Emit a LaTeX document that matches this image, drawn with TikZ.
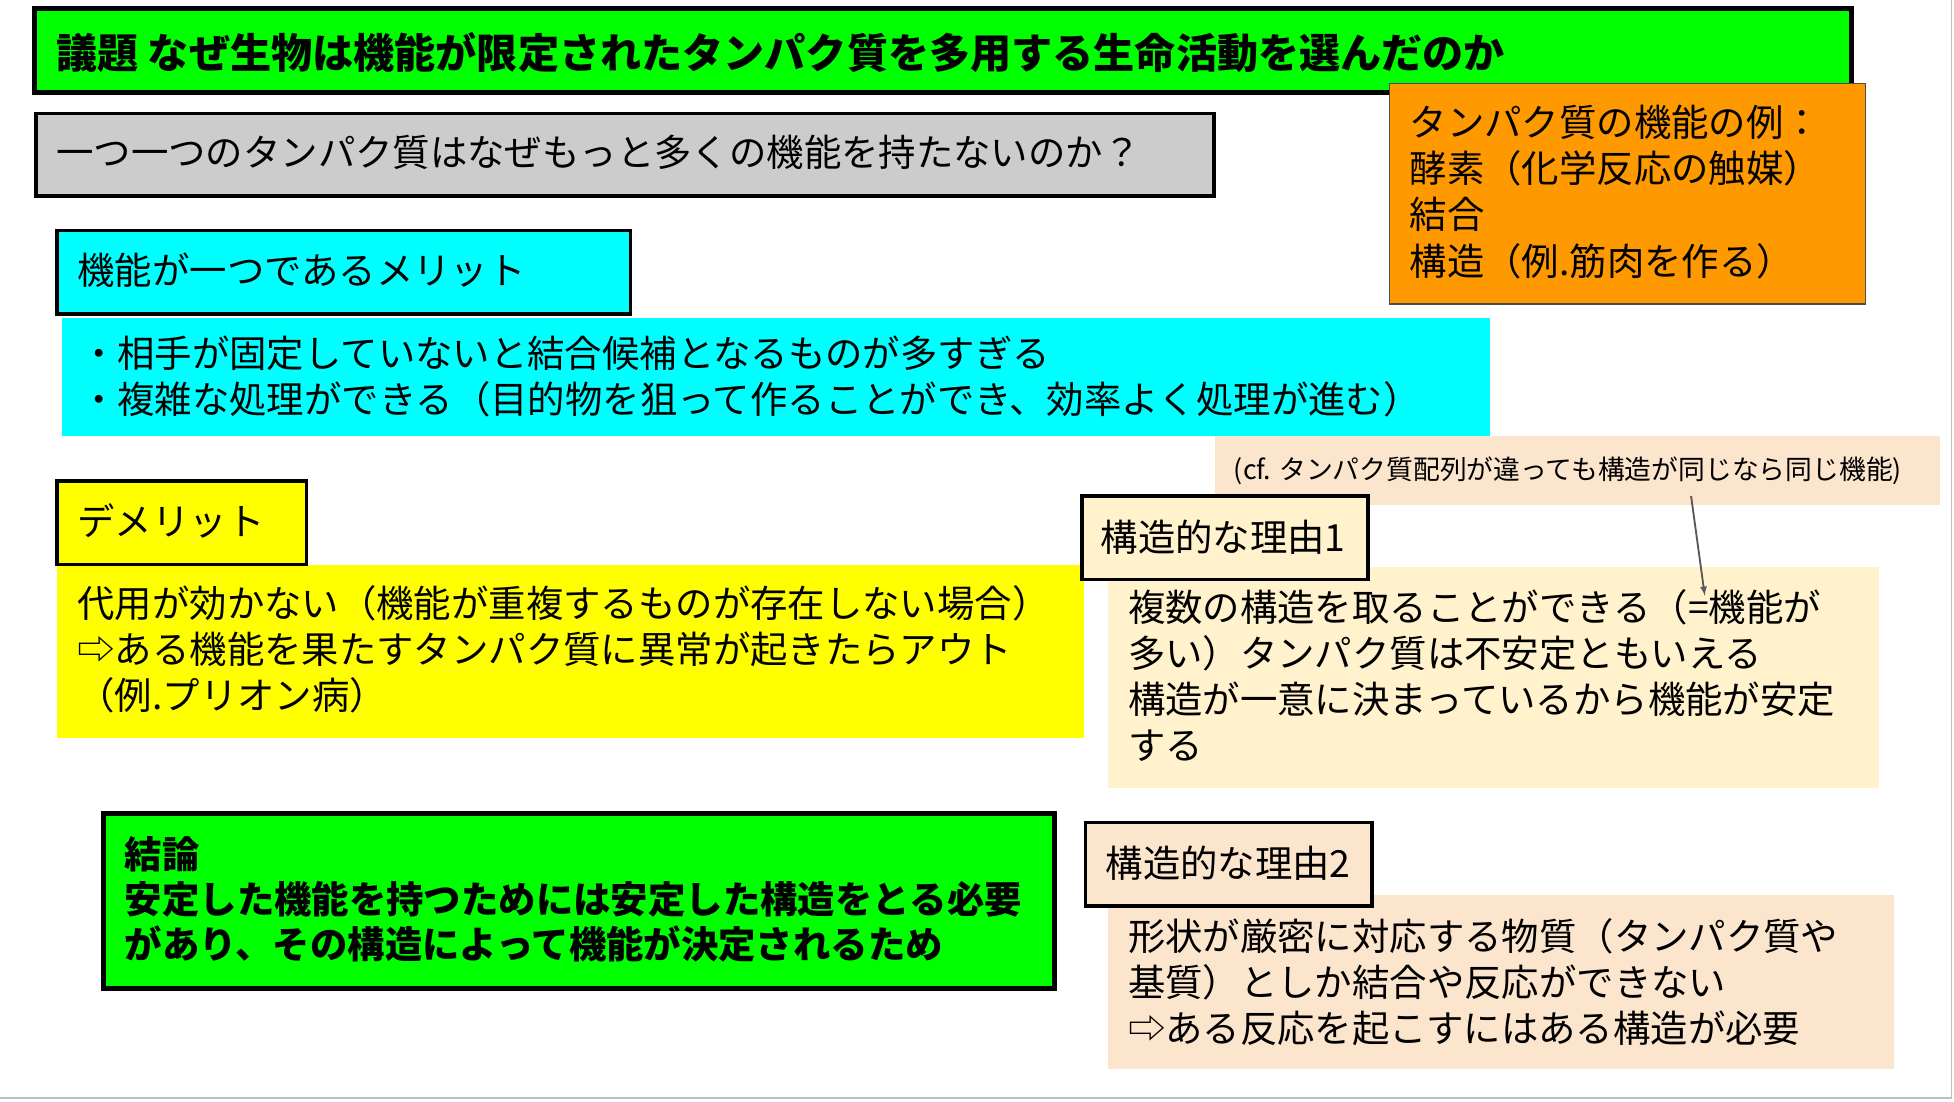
\documentclass[tikz,border=0pt]{standalone}
\usepackage{fontspec}
\setmainfont{Noto Sans CJK JP}
\definecolor{cy}{RGB}{0,255,255}
\definecolor{ye}{RGB}{255,255,0}
\definecolor{gr}{RGB}{0,255,0}
\definecolor{or}{RGB}{255,153,0}
\definecolor{cr}{RGB}{255,242,204}
\definecolor{pe}{RGB}{252,229,205}
\begin{document}
\begin{tikzpicture}[x=1pt,y=-1pt,
  txt/.style={anchor=west,align=left,inner sep=0pt,font=\fontsize{30}{37}\selectfont},
  btxt/.style={txt,font=\fontsize{30}{36}\selectfont\bfseries},
  hdr/.style={draw=black,line width=3pt}]
\useasboundingbox (0,0) rectangle (1568,884);
\fill[white] (0,0) rectangle (1568,884);
\draw[gray!50,line width=1pt] (1566,0) -- (1566,881) -- (0,881);
% title
\draw[hdr,fill=gr,line width=4pt] (28,7) rectangle (1486,74);
\node[btxt,font=\fontsize{33}{36}\selectfont\bfseries] (title) at (45,42) {議題 なぜ生物は機能が限定されたタンパク質を多用する生命活動を選んだのか};
% gray
\draw[hdr,fill=gray!40] (29,91) rectangle (974,157);
\node[txt] (q) at (45,122) {一つ一つのタンパク質はなぜもっと多くの機能を持たないのか？};
% orange
\draw[fill=or,draw=black!70,line width=1pt] (1115,67) rectangle (1497,244);
\node[txt,anchor=west] (ex) at (1131,154) {タンパク質の機能の例：\\酵素（化学反応の触媒）\\結合\\構造（例.筋肉を作る）};
% merit
\draw[hdr,fill=cy] (46,185) rectangle (506,252);
\node[txt] (mh) at (62,217) {機能が一つであるメリット};
\fill[cy] (50,255) rectangle (1196,350);
\node[txt] (mb) at (64,302) {・相手が固定していないと結合候補となるものが多すぎる\\・複雑な処理ができる（目的物を狙って作ることができ、効率よく処理が進む）};
% note
\fill[pe] (975,350) rectangle (1557,405);
\node[txt,font=\fontsize{21.5}{24}\selectfont] (note) at (990,378) {(cf. タンパク質配列が違っても構造が同じなら同じ機能)};
% demerit
\fill[ye] (46,453) rectangle (870,592);
\draw[hdr,fill=ye] (46,386) rectangle (246,453);
\node[txt] (dh) at (62,418) {デメリット};
\node[txt] (db) at (62,521) {代用が効かない（機能が重複するものが存在しない場合）\\⇨ある機能を果たすタンパク質に異常が起きたらアウト\\（例.プリオン病）};
% reason1
\fill[cr] (889,455) rectangle (1508,632);
\draw[hdr,fill=cr] (868,398) rectangle (1098,465);
\node[txt] (r1h) at (883,431) {構造的な理由1};
\node[txt] (r1b) at (905,542) {複数の構造を取ることができる（=機能が\\多い）タンパク質は不安定ともいえる\\構造が一意に決まっているから機能が安定\\する};
\coordinate (as) at (1357,398);
\coordinate (ae) at (1368,478);
\draw[-latex,gray!70!black,line width=1.5pt] (as) -- (ae);
% conclusion
\draw[hdr,fill=gr,line width=4pt] (83,653) rectangle (846,793);
\node[btxt] (cb) at (100,722) {結論\\安定した機能を持つためには安定した構造をとる必要\\があり、その構造によって機能が決定されるため};
% reason2
\fill[pe] (889,718) rectangle (1520,858);
\draw[hdr,fill=pe] (871,660) rectangle (1101,727);
\node[txt] (r2h) at (887,693) {構造的な理由2};
\node[txt] (r2b) at (905,788) {形状が厳密に対応する物質（タンパク質や\\基質）としか結合や反応ができない\\⇨ある反応を起こすにはある構造が必要};
\end{tikzpicture}
\end{document}
